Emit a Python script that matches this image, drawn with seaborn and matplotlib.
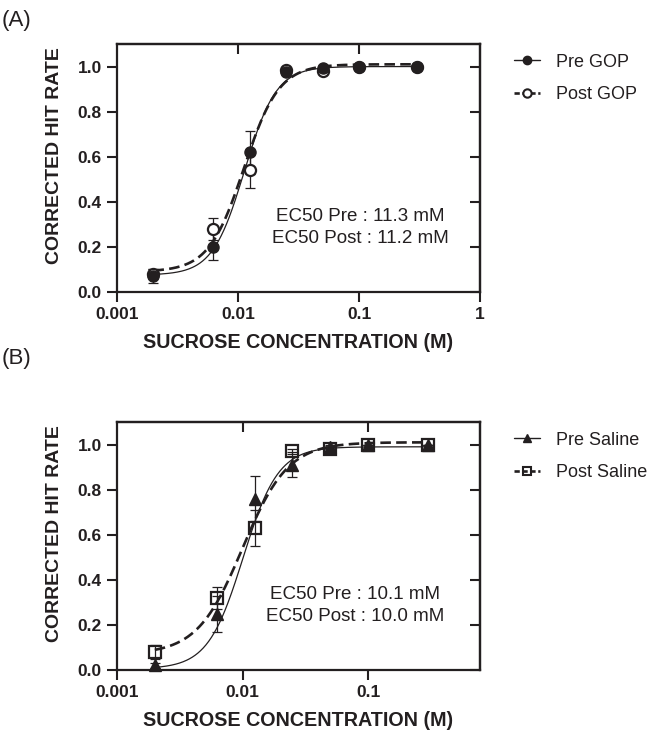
import numpy as np
import pandas as pd
import matplotlib
matplotlib.use("Agg")
import matplotlib.pyplot as plt
import seaborn as sns
from matplotlib.lines import Line2D
from matplotlib.ticker import NullLocator, FixedLocator, FuncFormatter

# sucrose concentrations (M)
conc = [0.002, 0.00625, 0.0125, 0.025, 0.05, 0.1, 0.3]

# panel A : GOP
pre_gop = [0.07, 0.20, 0.62, 0.975, 0.995, 1.0, 1.0]
pre_gop_err = [0.03, 0.06, 0.095, 0.01, 0.005, 0.0, 0.0]
post_gop = [0.08, 0.28, 0.54, 0.985, 0.98, 1.0, 1.0]
post_gop_err = [0.02, 0.05, 0.08, 0.01, 0.01, 0.0, 0.0]

# panel B : saline
pre_sal = [0.02, 0.25, 0.76, 0.91, 0.99, 1.0, 1.0]
pre_sal_err = [0.01, 0.08, 0.10, 0.055, 0.01, 0.0, 0.0]
post_sal = [0.08, 0.32, 0.63, 0.97, 0.98, 1.0, 1.0]
post_sal_err = [0.03, 0.05, 0.08, 0.01, 0.01, 0.0, 0.0]

# sigmoid fit parameters: bottom, top, EC50 (M), hill slope
fit_pre_gop = [0.075, 1.0, 0.0113, 3.3]
fit_post_gop = [0.09, 1.01, 0.0112, 3.0]
fit_pre_sal = [0.005, 0.99, 0.0101, 3.1]
fit_post_sal = [0.07, 1.01, 0.0100, 2.4]

ec50_text_a = "EC50 Pre : 11.3 mM\nEC50 Post : 11.2 mM"
ec50_text_b = "EC50 Pre : 10.1 mM\nEC50 Post : 10.0 mM"

INK = "#231f20"

sns.set_style("ticks")
plt.rcParams['font.family'] = ['Liberation Sans', 'DejaVu Sans']
plt.rcParams.update({"text.color": INK, "axes.labelcolor": INK,
                     "xtick.color": INK, "ytick.color": INK,
                     "axes.edgecolor": INK})


def hill(x, p):
    b, t, ec, h = p
    return b + (t - b) / (1 + (ec / x) ** h)


def fit_df(p, name):
    xs = np.logspace(np.log10(conc[0]), np.log10(conc[-1]), 300)
    return pd.DataFrame({"x": xs, "y": hill(xs, p), "grp": name})


def panel(ax, pre, pre_err, post, post_err, fit_pre, fit_post, marker,
          post_marker, post_face, labels, xmax, xticks, note, note_x):
    df = pd.concat([fit_df(fit_pre, labels[0]), fit_df(fit_post, labels[1])])
    sns.lineplot(data=df, x="x", y="y", hue="grp", style="grp",
                 palette=[INK, INK], dashes=[(1, 0), (4, 2)],
                 size="grp", sizes=[0.9, 1.9], legend=False, ax=ax)

    ax.errorbar(conc, post, yerr=post_err, fmt="none", ecolor=INK,
                elinewidth=0.9, capsize=3.5, capthick=0.9, zorder=3)
    ax.errorbar(conc, pre, yerr=pre_err, fmt="none", ecolor=INK,
                elinewidth=0.9, capsize=3.5, capthick=0.9, zorder=3)
    ax.plot(conc, post, ls="none", marker=post_marker, ms=8, mfc=post_face,
            mec=INK, mew=1.6, zorder=4, clip_on=False)
    ax.plot(conc, pre, ls="none", marker=marker, ms=8, color=INK,
            zorder=5, clip_on=False)

    ax.set_xscale("log")
    ax.set_xlim(0.001, xmax)
    ax.set_ylim(0, 1.1)
    ax.xaxis.set_major_locator(FixedLocator(xticks))
    ax.xaxis.set_minor_locator(NullLocator())
    ax.xaxis.set_major_formatter(FuncFormatter(lambda v, pos: f"{v:g}"))
    ax.set_yticks([0, 0.2, 0.4, 0.6, 0.8, 1.0])
    ax.set_yticklabels(["0.0", "0.2", "0.4", "0.6", "0.8", "1.0"])
    ax.tick_params(direction="out", length=7, width=1.5, labelsize=12.5,
                   pad=4)
    for lab in ax.get_xticklabels() + ax.get_yticklabels():
        lab.set_fontweight("bold")
    for s in ax.spines.values():
        s.set_linewidth(1.6)
        s.set_visible(True)

    top = ax.secondary_xaxis("top")
    top.set_xticks([0.01, 0.1])
    top.xaxis.set_minor_locator(NullLocator())
    top.tick_params(direction="in", length=7, width=1.5, labeltop=False)
    top.spines["top"].set_linewidth(1.6)
    right = ax.secondary_yaxis("right")
    right.set_yticks([0, 0.2, 0.4, 0.6, 0.8, 1.0])
    right.tick_params(direction="in", length=7, width=1.5, labelright=False)
    right.spines["right"].set_linewidth(1.6)

    ax.set_xlabel("SUCROSE CONCENTRATION (M)", fontsize=14.2,
                  fontweight="bold", labelpad=8)
    ax.set_ylabel("CORRECTED HIT RATE", fontsize=14, fontweight="bold")
    ax.yaxis.set_label_coords(-0.15, 0.55)

    ax.text(note_x, 0.26, note, transform=ax.transAxes, fontsize=13.5,
            ha="center", va="center", linespacing=1.45)

    handles = [
        Line2D([], [], color=INK, lw=1.0, marker=marker, ms=6),
        Line2D([], [], color=INK, lw=1.9, ls=(0, (2, 1)),
               marker=post_marker, ms=6, mfc=post_face, mew=1.5),
    ]
    ax.legend(handles, labels, loc="upper left", bbox_to_anchor=(1.075, 0.99),
              frameon=False, fontsize=13, handlelength=1.4,
              handletextpad=0.9, labelspacing=0.85, borderaxespad=0)


fig = plt.figure(figsize=(6.64, 7.31), dpi=100)
ax_a = fig.add_axes([117 / 664, 1 - 292 / 731, 363 / 664, 248 / 731])
ax_b = fig.add_axes([117 / 664, 1 - 670 / 731, 363 / 664, 248 / 731])

panel(ax_a, pre_gop, pre_gop_err, post_gop, post_gop_err, fit_pre_gop,
      fit_post_gop, "o", "o", "white", ["Pre GOP", "Post GOP"], 1.0,
      [0.001, 0.01, 0.1, 1], ec50_text_a, 0.67)
panel(ax_b, pre_sal, pre_sal_err, post_sal, post_sal_err, fit_pre_sal,
      fit_post_sal, "^", "s", "none", ["Pre Saline", "Post Saline"], 0.78,
      [0.001, 0.01, 0.1], ec50_text_b, 0.655)

fig.text(0.002, 0.972, "(A)", fontsize=16, va="center")
fig.text(0.002, 0.510, "(B)", fontsize=16, va="center")

fig.savefig("out.png", dpi=100)
